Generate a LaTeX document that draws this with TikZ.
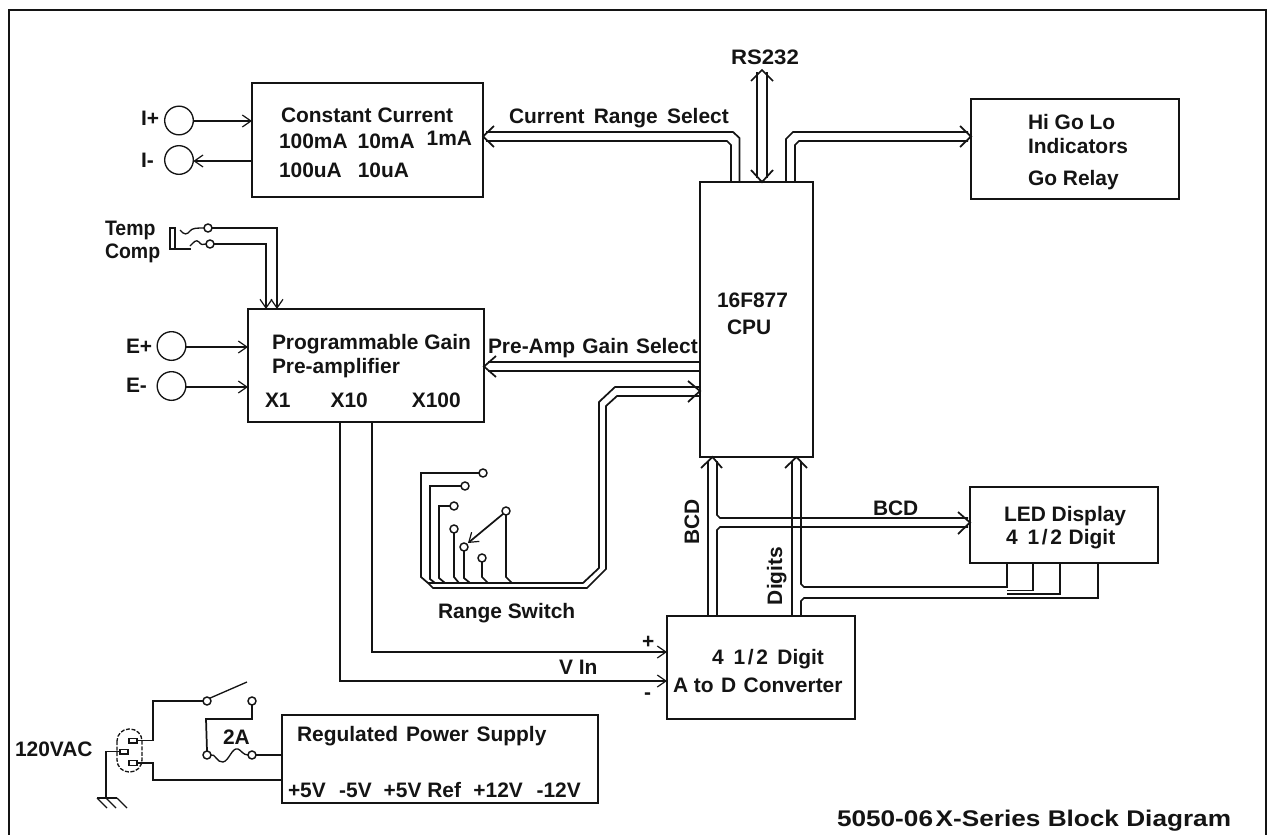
\documentclass[tikz,border=0pt]{standalone}
\usepackage{fontspec}
\setmainfont{Liberation Sans}[BoldFont={Liberation Sans Bold}]
\newfontfamily\widefont{Liberation Sans Bold}[FakeStretch=1.155]
\newfontfamily\slightfont{Liberation Sans Bold}[FakeStretch=1.06]
\usetikzlibrary{arrows.meta}
\definecolor{ink}{gray}{0.08}
\newcommand\blk[5]{\node[box,minimum width={(#4-#2)*0.75pt},minimum height={(#5-#3)*0.75pt}] (#1) at ({(#2+#4)/2},{(#3+#5)/2}) {};}
\newcommand\lbl[4]{\node[txt] (#1) at (#2,#3) {#4};}
\newcommand\jack[3]{\node[jackc] (#1) at (#2,#3) {};}
\newcommand\pad[3]{\node[padc] (#1) at (#2,#3) {};}
\newcommand\barbs[5]{\draw[wire] (#2,#3) -- (#1) -- (#4,#5);}
\tikzset{
  wire/.style={draw=ink,line width=1.3pt,line join=miter},
  thinwire/.style={draw=ink,line width=1pt},
  box/.style={draw=ink,line width=1.4pt,fill=none,inner sep=0pt,outer sep=0pt},
  txt/.style={anchor=base west,inner sep=0pt,outer sep=0pt,text=ink,font=\fontsize{15.7}{18}\bfseries\selectfont},
  jackc/.style={circle,draw=ink,line width=1pt,minimum size=21.5pt,inner sep=0pt,outer sep=0pt},
  padc/.style={circle,draw=ink,line width=1.1pt,minimum size=6pt,inner sep=0pt,outer sep=0pt},
  pin/.style={draw=ink,line width=1pt,fill=none,minimum width=6pt,minimum height=3.5pt,inner sep=0pt,outer sep=0pt},
  arr/.style={wire,-{Straight Barb[length=6.5pt,width=9pt,line width=0.9pt]}},
}
\begin{document}
\begin{tikzpicture}[x=0.75pt,y=-0.75pt]
\useasboundingbox (0,0) rectangle (1267,835);
\draw[draw=ink,line width=1.6pt] (9,835) -- (9,10) -- (1266,10) -- (1266,835);
% blocks
\blk{cc}{252}{83}{483}{197}
\blk{pre}{248}{309}{484}{422}
\blk{cpu}{700}{182}{813}{457}
\blk{hgl}{971}{99}{1179}{199}
\blk{led}{970}{487}{1158}{563}
\blk{adc}{667}{616}{855}{719}
\blk{psu}{282}{715}{598}{803}
% jacks
\jack{ip}{179}{120.5}
\jack{im}{179}{160}
\jack{ep}{171.5}{346}
\jack{em}{171.5}{386}
\draw[arr] (ip.east |- 0,121) -- (cc.west |- 0,121);
\draw[arr] (cc.west |- 0,161) -- (im.east |- 0,161);
\draw[arr] (ep.east |- 0,347) -- (pre.west |- 0,347);
\draw[arr] (em.east |- 0,387) -- (pre.west |- 0,387);
% labels
\lbl{tip}{141}{125}{I+}
\lbl{tim}{141}{167}{I-}
\lbl{tcc}{281}{122}{Constant Current}
\lbl{tcr}{279}{148}{100mA\hspace{7.5pt}10mA\hspace{9pt}\raisebox{2pt}{1mA}}
\lbl{tcu}{279}{177}{100uA\hspace{12pt}10uA}
\lbl{ttemp}{105}{235}{\scalebox{0.93}[1]{Temp}}
\lbl{tcomp}{105}{258}{\scalebox{0.93}[1]{Comp}}
\lbl{tep}{126}{353}{E+}
\lbl{tem}{126}{392}{E-}
\lbl{tpg}{272}{349}{Programmable Gain}
\lbl{tpa}{272}{373}{Pre-amplifier}
\lbl{tx}{265}{407}{X1\hspace{30pt}X10\hspace{33pt}X100}
\lbl{tcrs}{509}{123}{Current\hspace{2.6pt} Range\hspace{2.6pt} Select}
\lbl{tpag}{488}{353}{Pre-Amp\hspace{1pt} Gain\hspace{1pt} Select}
\node[txt,font=\fontsize{15.7}{18}\slightfont] (trs) at (731,64) {RS232};
\lbl{tcpu}{717}{307}{16F877}
\lbl{tcpub}{727}{334}{CPU}
\lbl{thi}{1028}{129}{Hi Go Lo}
\lbl{tind}{1028}{153}{Indicators}
\lbl{tgo}{1028}{185}{Go Relay}
\lbl{tbcd}{873}{515}{BCD}
\lbl{tled}{1004}{521}{LED Display}
\lbl{tledb}{1006}{544}{4\hspace{7.5pt}1\kern2pt/\kern2pt 2\hspace{5pt}Digit}
\node[txt,anchor=base,rotate=90] (tbcdv) at (699,522) {BCD};
\node[txt,anchor=base,rotate=90] (tdig) at (782,576) {Digits};
\lbl{tad}{712}{664}{4\hspace{7.5pt}1\kern2pt/\kern2pt 2\hspace{7pt}Digit}
\lbl{tadb}{673}{692}{A to\hspace{1.2pt} D\hspace{1.2pt} Converter}
\lbl{tplus}{642}{648}{+}
\lbl{tminus}{644}{699}{-}
\lbl{tvin}{559}{674}{V In}
\lbl{trsw}{438}{618}{Range Switch}
\lbl{tac}{15}{756}{120VAC}
\lbl{tfuse}{223}{744}{2A}
\lbl{tpsu}{297}{741}{Regulated\hspace{1.5pt} Power\hspace{1.5pt} Supply}
\lbl{trails}{288}{797}{+5V\hspace{10pt}-5V\hspace{9pt}+5V Ref\hspace{9.25pt}+12V\hspace{10.25pt}-12V}
\node[txt,font=\fontsize{17}{19}\widefont] (tfoot) at (837,826) {5050-06\hspace{2pt}X-Series Block Diagram};
% current range select
\draw[wire] (cpu.north -| 739.5,0) -- (739.5,138) -- (733,132) -- (486,132);
\draw[wire] (cpu.north -| 731,0) -- (731,145) -- (727,141) -- (486,141);
\coordinate (tipcc) at (cc.east |- 0,136.5);
\barbs{tipcc}{494}{126}{494}{147}
% hi go lo
\draw[wire] (cpu.north -| 786,0) -- (786,139) -- (793,132) -- (968,132);
\draw[wire] (cpu.north -| 795,0) -- (795,145) -- (799,141) -- (968,141);
\coordinate (tiphgl) at (hgl.west |- 0,136.5);
\barbs{tiphgl}{960}{126}{960}{147}
% RS232
\coordinate (rstop) at (762,70);
\coordinate (rsbot) at (cpu.north -| 762,0);
\draw[wire] (757,72) -- (757,178);
\draw[wire] (767,72) -- (767,178);
\barbs{rstop}{751}{81}{773}{81}
\barbs{rsbot}{751}{170}{773}{170}
% pre-amp gain select
\draw[wire] (cpu.west |- 0,362) -- (488,362);
\draw[wire] (cpu.west |- 0,371) -- (488,371);
\coordinate (tippre) at (pre.east |- 0,366.5);
\barbs{tippre}{496}{356}{496}{377}
% range switch
\pad{s1}{483}{473}
\pad{s2}{465}{486}
\pad{s3}{454}{506}
\pad{s4}{454}{529}
\pad{s5}{464}{547}
\pad{s6}{482}{558}
\pad{s7}{506}{511}
\draw[wire] (cpu.west |- 0,387) -- (615,387) -- (599,402) -- (599,568) -- (583,583) -- (428,583);
\draw[wire] (cpu.west |- 0,396) -- (617,396) -- (606,406) -- (606,569) -- (587,588) -- (433,588) -- (428,583) -- (421,577) -- (421,473) -- (s1.west);
\coordinate (tipsw) at (cpu.west |- 0,391);
\barbs{tipsw}{688}{381}{688}{402}
\draw[wire] (s2.west) -- (430,486) -- (430,579) -- (435,583);
\draw[wire] (s3.west) -- (439,506) -- (439,578) -- (445,583);
\draw[wire] (s4.south) -- (454,577) -- (459,583);
\draw[wire] (s5.south) -- (464,578) -- (470,583);
\draw[wire] (s6.south) -- (482,577) -- (488,583);
\draw[wire] (s7.south) -- (506,577) -- (512,583);
\draw[arr] (s7.south west) -- (468,543);
% preamp outputs
\draw[arr] (pre.south -| 372,0) -- (372,652) -- (adc.west |- 0,652);
\draw[arr] (pre.south -| 340,0) -- (340,681) -- (adc.west |- 0,681);
% temp comp
\pad{t1}{208}{228}
\pad{t2}{210}{244}
\draw[arr] (t1.east) -- (277,228) -- (pre.north -| 277,0);
\draw[arr] (t2.east) -- (266,244) -- (pre.north -| 266,0);
\draw[wire] (170,228) -- (175,228) -- (175,249) -- (170,249) -- cycle;
\draw[wire] (175,249) -- (191,249);
\draw[thinwire] (180,230) .. controls (184,235) and (187,235) .. (190,231) .. controls (192,228) and (197,228) .. (t1.west);
\draw[thinwire] (190,246) .. controls (194,242) and (196,239) .. (199,242) .. controls (201,245) and (203,245) .. (t2.west);
% ADC to CPU
\draw[wire] (adc.north -| 708,0) -- (708,461);
\draw[wire] (adc.north -| 717,0) -- (717,530) -- (720,527) -- (968,527);
\draw[wire] (717,461) -- (717,515) -- (720,518) -- (968,518);
\coordinate (tipb) at (cpu.south -| 712.5,0);
\barbs{tipb}{701}{468}{722}{468}
\coordinate (tipled) at (led.west |- 0,522.5);
\barbs{tipled}{958}{512}{958}{534}
\draw[wire] (adc.north -| 792,0) -- (792,461);
\draw[wire] (801,461) -- (801,584) -- (804,587) -- (1007,587) -- (led.south -| 1007,0);
\draw[wire] (adc.north -| 801,0) -- (801,601) -- (804,598) -- (1098,598) -- (led.south -| 1098,0);
\draw[wire] (1007,590.5) -- (1033,590.5) -- (led.south -| 1033,0);
\draw[wire] (1007,594) -- (1060,594) -- (led.south -| 1060,0);
\coordinate (tipd) at (cpu.south -| 796.5,0);
\barbs{tipd}{785}{468}{807}{468}
% mains
\draw[thinwire,dash pattern=on 3pt off 1.2pt,rounded corners=9pt] (117,729) rectangle (142,772);
\node[pin] (pt) at (133,740.5) {};
\node[pin] (pg) at (124,751.5) {};
\node[pin] (pb) at (133,763) {};
\pad{sw1}{207}{701}
\pad{sw2}{252}{701}
\pad{f1}{207}{755}
\pad{f2}{252}{755}
\coordinate (swend) at (247,682);
\draw[wire] (pt.east) -- (153,740.5) -- (153,701) -- (sw1.west);
\draw[thinwire] (sw1.north east) -- (swend);
\draw[wire] (sw2.south) -- (252,719) -- (206,719) -- (f1.north);
\draw[thinwire] (f1.east) .. controls (215,753) and (217,763) .. (223,762) .. controls (229,761) and (232,747) .. (238,749) .. controls (241,750) and (243,755) .. (f2.west);
\draw[wire] (f2.east) -- (psu.west |- f2.east);
\draw[wire] (pb.east) -- (153,763) -- (153,780) -- (psu.west |- 0,780);
\coordinate (gnd) at (106,798);
\draw[wire] (pg.west) -- (106,751.5) -- (gnd);
\draw[wire] (97,798) -- (117,798);
\draw[thinwire] (97,798) -- (107,808);
\draw[thinwire] (106,798) -- (116,808);
\draw[thinwire] (117,798) -- (127,808);
\end{tikzpicture}
\end{document}
